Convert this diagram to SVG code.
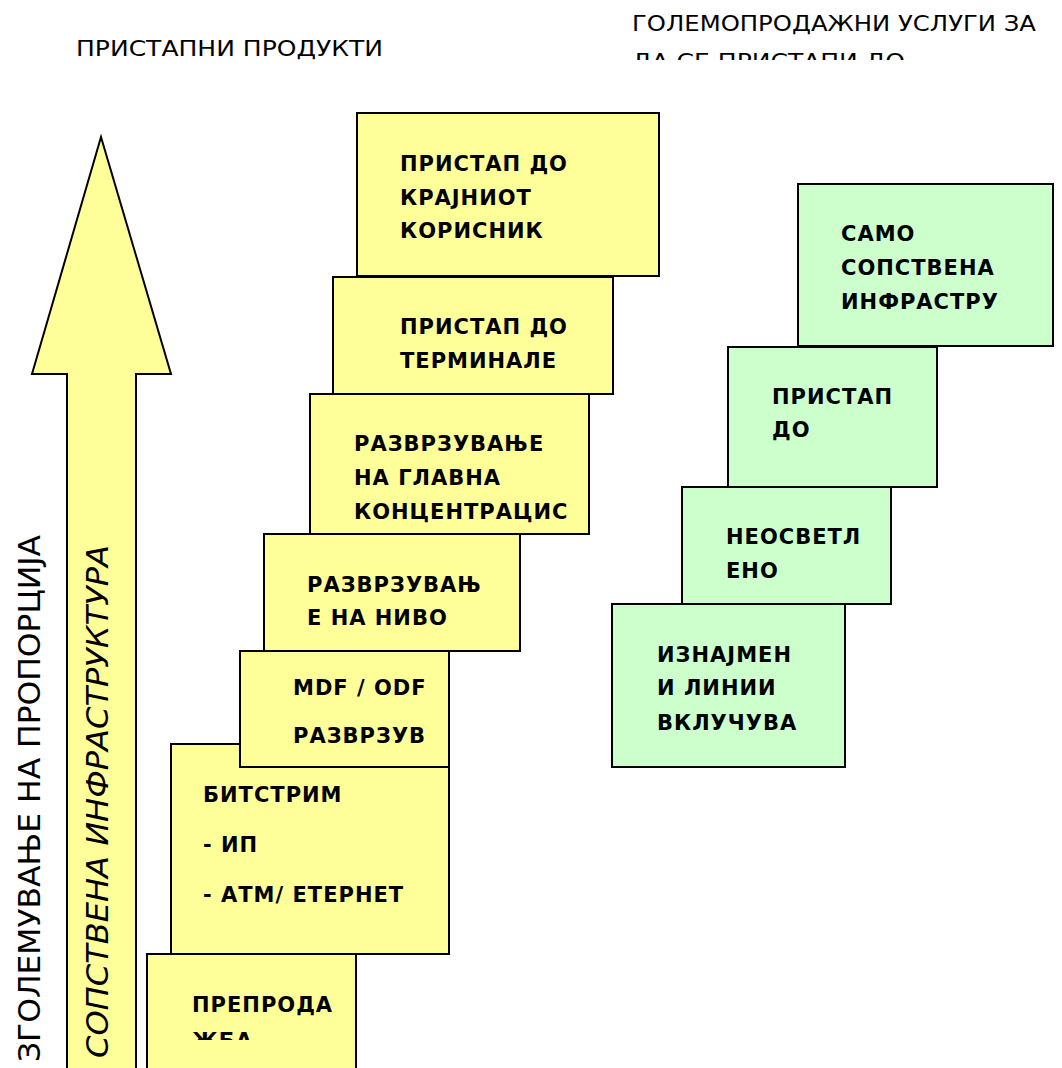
<svg xmlns="http://www.w3.org/2000/svg" width="1062" height="1068" viewBox="0 0 1062 1068">
  <defs>
    <style>
      .y { fill: #FFFF99; stroke: #000; stroke-width: 2; }
      .g { fill: #CCFFCC; stroke: #000; stroke-width: 2; }
      .t { font-family: "DejaVu Sans", "Liberation Sans", sans-serif; font-weight: bold; font-size: 21px; letter-spacing: 1px; fill: #000; }
      .h { font-family: "DejaVu Sans", "Liberation Sans", sans-serif; font-size: 21px; fill: #000; }
      .v { font-family: "DejaVu Sans", "Liberation Sans", sans-serif; font-size: 30px; fill: #000; }
    </style>
    <clipPath id="clip-header"><rect x="600" y="0" width="462" height="60"/></clipPath>
    <clipPath id="clip-resale"><rect x="147" y="954" width="210" height="86"/></clipPath>
  </defs>

  <rect width="1062" height="1068" fill="#fff"/>

  <!-- column headings -->
  <g id="heading-left">
    <text class="h" x="76" y="56" textLength="307" lengthAdjust="spacingAndGlyphs">ПРИСТАПНИ ПРОДУКТИ</text>
  </g>
  <g id="heading-right" clip-path="url(#clip-header)">
    <text class="h" x="632" y="31" textLength="404" lengthAdjust="spacingAndGlyphs">ГОЛЕМОПРОДАЖНИ УСЛУГИ ЗА</text>
    <text class="h" x="632" y="69" textLength="273" lengthAdjust="spacingAndGlyphs">ДА СЕ ПРИСТАПИ ДО</text>
  </g>

  <!-- big upward arrow -->
  <g id="arrow">
    <polygon class="y" points="101,137 171,374 136,374 136,1070 67,1070 67,374 32,374"/>
    <text class="v" font-style="italic" transform="translate(108,1058) rotate(-90)" textLength="513" lengthAdjust="spacingAndGlyphs">СОПСТВЕНА ИНФРАСТРУКТУРА</text>
  </g>
  <g id="label-proportion">
    <text class="v" transform="translate(40,1062) rotate(-90)" textLength="527" lengthAdjust="spacingAndGlyphs">ЗГОЛЕМУВАЊЕ НА ПРОПОРЦИЈА</text>
  </g>

  <!-- yellow staircase: access products -->
  <g id="end-user-access">
    <rect class="y" x="357" y="113" width="302" height="163"/>
    <text class="t" x="400" y="171">ПРИСТАП ДО</text>
    <text class="t" x="400" y="205">КРАЈНИОТ</text>
    <text class="t" x="400" y="238">КОРИСНИК</text>
  </g>
  <g id="terminal-access">
    <rect class="y" x="333" y="277" width="280" height="117"/>
    <text class="t" x="400" y="334">ПРИСТАП ДО</text>
    <text class="t" x="400" y="368">ТЕРМИНАЛЕ</text>
  </g>
  <g id="main-unbundling">
    <rect class="y" x="310" y="394" width="279" height="140"/>
    <text class="t" x="354" y="451">РАЗВРЗУВАЊЕ</text>
    <text class="t" x="354" y="485">НА ГЛАВНА</text>
    <text class="t" x="354" y="519">КОНЦЕНТРАЦИС</text>
  </g>
  <g id="level-unbundling">
    <rect class="y" x="264" y="534" width="256" height="117"/>
    <text class="t" x="307" y="592">РАЗВРЗУВАЊ</text>
    <text class="t" x="307" y="625">Е НА НИВО</text>
  </g>
  <g id="bitstream">
    <rect class="y" x="171" y="744" width="278" height="210"/>
    <text class="t" x="203" y="802">БИТСТРИМ</text>
    <text class="t" x="203" y="852">- ИП</text>
    <text class="t" x="203" y="902">- АТМ/ ЕТЕРНЕТ</text>
  </g>
  <g id="mdf-odf">
    <rect class="y" x="240" y="651" width="209" height="116"/>
    <text class="t" x="293" y="695">MDF / ODF</text>
    <text class="t" x="293" y="743">РАЗВРЗУВ</text>
  </g>
  <g id="resale">
    <rect class="y" x="147" y="954" width="209" height="120"/>
    <g clip-path="url(#clip-resale)">
      <text class="t" x="192" y="1012">ПРЕПРОДА</text>
      <text class="t" x="192" y="1048">ЖБА</text>
    </g>
  </g>

  <!-- green staircase: wholesale services -->
  <g id="own-infrastructure">
    <rect class="g" x="798" y="184" width="255" height="162"/>
    <text class="t" x="841" y="241">САМО</text>
    <text class="t" x="841" y="275">СОПСТВЕНА</text>
    <text class="t" x="841" y="309">ИНФРАСТРУ</text>
  </g>
  <g id="access-to">
    <rect class="g" x="728" y="347" width="209" height="140"/>
    <text class="t" x="772" y="404">ПРИСТАП</text>
    <text class="t" x="772" y="437">ДО</text>
  </g>
  <g id="dark-fibre">
    <rect class="g" x="682" y="487" width="209" height="117"/>
    <text class="t" x="726" y="544">НЕОСВЕТЛ</text>
    <text class="t" x="726" y="578">ЕНО</text>
  </g>
  <g id="leased-lines">
    <rect class="g" x="612" y="604" width="233" height="163"/>
    <text class="t" x="657" y="662">ИЗНАЈМЕН</text>
    <text class="t" x="657" y="695">И ЛИНИИ</text>
    <text class="t" x="657" y="730">ВКЛУЧУВА</text>
  </g>

  <g id="connectors"/>
</svg>
